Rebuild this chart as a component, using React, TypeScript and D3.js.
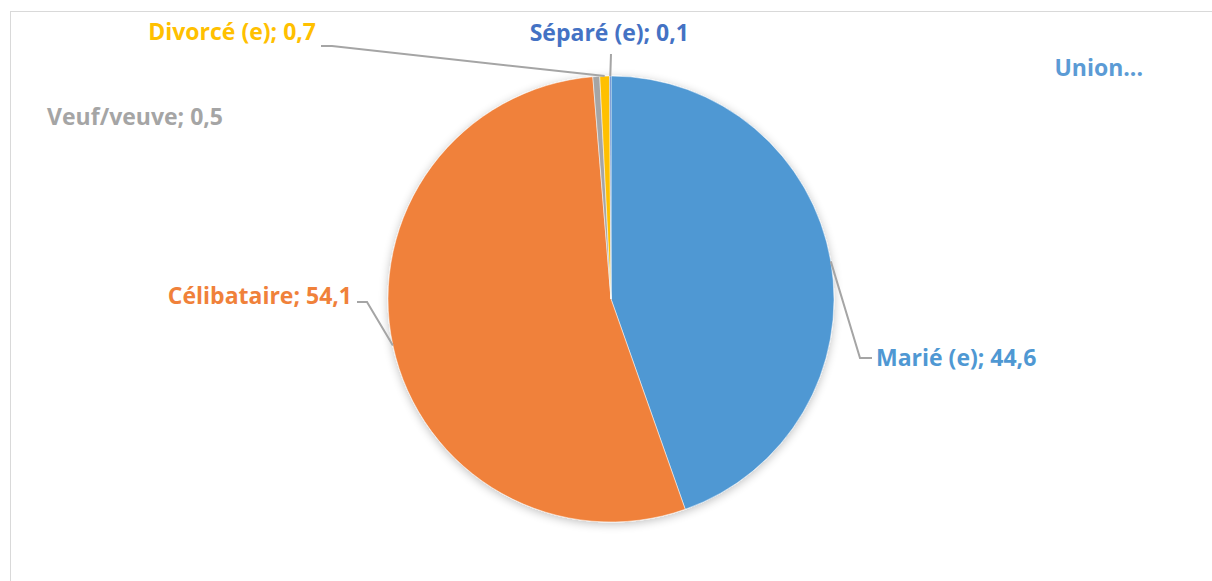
import React from "react";
import * as d3 from "d3";

const categories = ["Marié (e)", "Célibataire", "Veuf/veuve", "Divorcé (e)", "Séparé (e)", "Union..."];
const values = [44.6, 54.1, 0.5, 0.7, 0.1, 0];
const valueLabels = ["44,6", "54,1", "0,5", "0,7", "0,1", ""];
const colors = ["#4F98D3", "#F0813A", "#A5A5A5", "#FFC000", "#4472C4", "#5B9BD5"];
const labelColors = ["#4F98D3", "#F0813A", "#A5A5A5", "#FFC000", "#4472C4", "#5B9BD5"];

const W = 1212;
const H = 581;
const cx = 611;
const cy = 299;
const R = 223;

// label anchors (layout only)
const labelPos: { x: number; y: number; anchor: string; line?: [number, number][] }[] = [
  { x: 876, y: 366, anchor: "start", line: [[872, 358], [860, 358]] },
  { x: 352, y: 304, anchor: "end", line: [[357, 302], [367, 302]] },
  { x: 223, y: 125, anchor: "end" },
  { x: 316, y: 40, anchor: "end", line: [[321, 46], [332, 46]] },
  { x: 689, y: 41, anchor: "end", line: [[611, 54]] },
  { x: 1143, y: 76, anchor: "end" },
];

export default function App() {
  const pie = d3
    .pie<number>()
    .sort(null)
    .value((d) => d)(values);
  const arc = d3.arc<d3.PieArcDatum<number>>().innerRadius(0).outerRadius(R);
  const edge = d3.arc<d3.PieArcDatum<number>>().innerRadius(R).outerRadius(R);

  return (
    <svg
      width={W}
      height={H}
      style={{ position: "fixed", left: 0, top: 0, background: "#fff" }}
      fontFamily="'Open Sans', sans-serif"
    >
      <defs>
        <filter id="sh" x="-20%" y="-20%" width="140%" height="140%">
          <feGaussianBlur in="SourceAlpha" stdDeviation="5" />
          <feOffset dx="0" dy="2" result="b" />
          <feComponentTransfer>
            <feFuncA type="linear" slope="0.25" />
          </feComponentTransfer>
          <feMerge>
            <feMergeNode />
            <feMergeNode in="SourceGraphic" />
          </feMerge>
        </filter>
      </defs>
      <rect x={10.5} y={11.5} width={W + 10} height={H + 10} fill="#fff" stroke="#d9d9d9" strokeWidth={1} />
      <g transform={`translate(${cx},${cy})`} filter="url(#sh)">
        {pie.map((p, i) =>
          p.value > 0 ? <path key={i} d={arc(p) || ""} fill={colors[i]} stroke="#fff" strokeWidth={0.5} /> : null
        )}
      </g>
      {pie.map((p, i) => {
        const lp = labelPos[i];
        if (!lp.line || p.value <= 0) return null;
        const [ex, ey] = edge.centroid(p);
        const pts: [number, number][] = [[cx + ex, cy + ey], ...lp.line.slice().reverse()];
        return (
          <polyline
            key={"l" + i}
            points={pts.map((q) => q.join(",")).join(" ")}
            fill="none"
            stroke="#A5A5A5"
            strokeWidth={2}
          />
        );
      })}
      {categories.map((c, i) => {
        const lp = labelPos[i];
        const txt = valueLabels[i] ? `${c}; ${valueLabels[i]}` : c;
        return (
          <text
            key={"t" + i}
            x={lp.x}
            y={lp.y}
            textAnchor={lp.anchor as any}
            fill={labelColors[i]}
            fontSize={23}
            fontWeight="bold"
          >
            {txt}
          </text>
        );
      })}
    </svg>
  );
}
